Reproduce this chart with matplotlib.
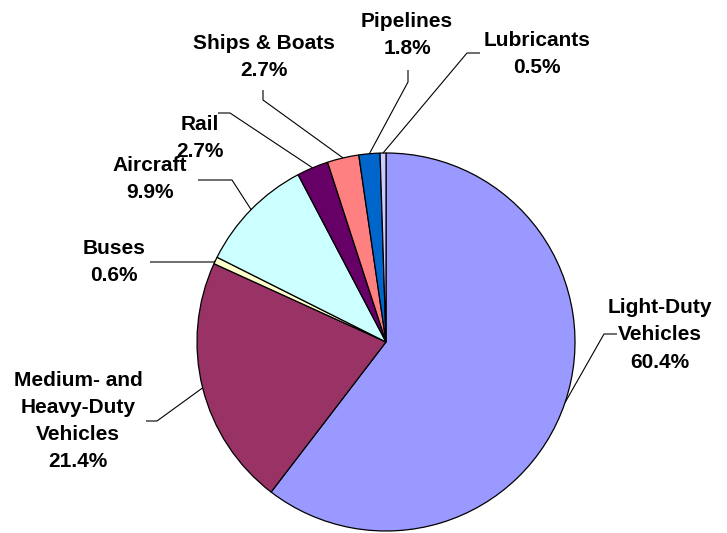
import numpy as np
import matplotlib.pyplot as plt

# transportation energy use by mode (percent)
modos = ['Light-Duty\nVehicles', 'Medium- and\nHeavy-Duty\nVehicles', 'Buses', 'Aircraft',
         'Rail', 'Ships & Boats', 'Pipelines', 'Lubricants']
porcentajes = [60.4, 21.4, 0.6, 9.9, 2.7, 2.7, 1.8, 0.5]
colores = ['#9999FF', '#993366', '#FFFFCC', '#CCFFFF', '#660066', '#FF8080', '#0066CC', '#CCCCFF']

# text centre, elbow of the leader line, end of the leader line (pixels from top-left)
etiquetas_pos = [(660, 335), (78, 421), (114, 262), (150, 179), (200, 138), (264, 57), (407, 35), (537, 54)]
codo = [(604, 334), (157, 421), (214, 262), (232, 180), (230, 113), (263, 100), (408, 82), (467, 53)]
fin = [(617, 334), (146, 421), (150, 262), (198, 180), (218, 113), (263, 90), (408, 70), (480, 53)]

W, H = 727, 533
fig = plt.figure(figsize=(W / 100, H / 100), dpi=100)
ax = fig.add_axes([0, 0, 1, 1])

cx, cy, r = 386, H - 342, 189
cunas, _ = ax.pie(porcentajes, colors=colores, startangle=90, counterclock=False,
                  center=(cx, cy), radius=r, frame=True,
                  wedgeprops=dict(edgecolor='black', linewidth=0.9))
ax.set_xlim(0, W)
ax.set_ylim(0, H)
ax.set_aspect('equal')
ax.axis('off')

fuente = dict(family=['Liberation Sans', 'DejaVu Sans'], fontweight='bold', fontsize=15)

for cuna, nombre, pct, pos, c, f in zip(cunas, modos, porcentajes, etiquetas_pos, codo, fin):
    ang = np.deg2rad((cuna.theta1 + cuna.theta2) / 2)
    borde = (cx + r * np.cos(ang), cy + r * np.sin(ang))
    ax.plot([borde[0], c[0], f[0]], [borde[1], H - c[1], H - f[1]],
            color='black', linewidth=0.8, solid_capstyle='butt')
    ax.text(pos[0], H - pos[1], f'{nombre}\n{pct:.1f}%', ha='center', va='center',
            linespacing=1.55, **fuente)

fig.savefig('out.png', dpi=100)
